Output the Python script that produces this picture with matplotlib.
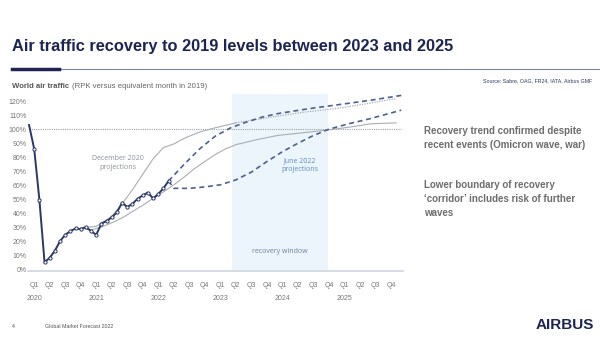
import matplotlib.pyplot as plt
from matplotlib.lines import Line2D

plt.rcParams['font.family'] = ['Liberation Sans', 'DejaVu Sans']

# monthly RPK vs same month of 2019 (%), month 0 = Jan 2020
traffic_months = list(range(0, 28))
traffic = [103, 86, 50, 5.5, 8.7, 13.7, 20.5, 25, 27.6, 29.5, 29, 30.5,
           27.6, 25, 33, 34.7, 37.4, 41, 47.8, 44.7, 47, 50.6, 53, 55,
           50.8, 54, 58, 63.3]

# June 2022 projections (dashed)
jun_hi_months = [27, 30, 33, 36, 39, 42, 45, 48, 54, 60, 66, 72]
jun_hi = [63.3, 75, 86, 95, 101, 105, 108.5, 111, 114.5, 117.5, 120.5, 124]
jun_lo_months = [27, 28, 31, 34, 37, 40, 43, 46, 49, 52, 55, 58, 62, 66, 72]
jun_lo = [63.3, 58, 58, 59, 60.5, 64, 69.5, 77, 84, 90, 95.5, 100, 104, 107.5, 113.5]

# December 2020 projections (thin grey)
dec_hi_months = [10, 13, 16, 18, 20, 22, 24, 26, 28, 30, 33, 36, 40]
dec_hi = [29.8, 31, 38, 47, 57, 68, 79, 87, 89.5, 93.5, 98, 101, 104.5]
dec_hi_ext_months = [40, 47, 53, 60, 66, 71]
dec_hi_ext = [104.5, 108.7, 112, 115, 118.5, 121.8]
dec_lo_months = [10, 12, 14, 16, 18, 20, 22, 24, 26, 28, 30, 32, 34, 36, 38, 40,
                 44, 48, 53, 58, 63, 66, 71]
dec_lo = [29.8, 28.5, 30.5, 33.5, 37, 41.5, 46, 51, 55.5, 60.5, 66, 72, 77, 82,
          86, 89, 92.5, 95.5, 97.5, 99.5, 102, 103.8, 104.5]

window = (39.2, 57.9)
yticks = list(range(0, 121, 10))
quarters = ['Q1', 'Q2', 'Q3', 'Q4'] * 6
years = ['2020', '2021', '2022', '2023', '2024', '2025']

W, H = 600, 341
fig = plt.figure(figsize=(6, 3.41), dpi=100)
fig.patch.set_facecolor('white')

def fx(px):
    return px / W

def fy(py):
    return 1 - py / H

ax = fig.add_axes([fx(28), fy(270.7), 374.8 / W, 176.7 / H])
ax.set_xlim(-0.2, 72.3)
ax.set_ylim(-0.5, 125)

ax.axvspan(window[0], window[1], ymin=0.004, ymax=1, color='#edf5fc', lw=0, zorder=0)
ax.plot([0, 72], [100, 100], color='#9aa0a8', lw=0.8, ls=(0, (1, 1)), zorder=1)

grey = '#a9adb4'
ax.plot(dec_hi_months, dec_hi, color=grey, lw=0.8, zorder=2)
ax.plot(dec_hi_ext_months, dec_hi_ext, color=grey, lw=0.9, ls=(0, (1, 1)), zorder=2)
ax.plot(dec_lo_months, dec_lo, color=grey, lw=0.8, zorder=2)

dash = '#4b6290'
ax.plot(jun_hi_months, jun_hi, color=dash, lw=1.2, ls=(0, (3, 2.2)), zorder=3)
ax.plot(jun_lo_months, jun_lo, color=dash, lw=1.2, ls=(0, (3, 2.2)), zorder=3)

ax.plot(traffic_months, traffic, color='#2b3866', lw=1.4, zorder=4)
ax.plot(traffic_months[1:], traffic[1:], ls='none', marker='o', ms=2.3,
        mfc='white', mec='#2b3866', mew=0.7, zorder=5)

ax.text(17.2, 76, 'December 2020\nprojections', ha='center', va='center',
        fontsize=5, color='#8a8f99', linespacing=1.3, family='Open Sans')
ax.text(52.4, 74.5, 'June 2022\nprojections', ha='center', va='center',
        fontsize=5, color='#5a8bcb', linespacing=1.3, family='Open Sans')
ax.text(48.5, 12.8, 'recovery window', ha='center', va='center',
        fontsize=5, color='#6a7ea3', family='Open Sans')

for s in ['top', 'right', 'left']:
    ax.spines[s].set_visible(False)
ax.spines['bottom'].set_color('#cdd6e2')
ax.spines['bottom'].set_linewidth(1.2)

ax.set_yticks(yticks)
ax.set_yticklabels([f'{v}%' for v in yticks])
ax.tick_params(axis='y', length=0, pad=1, labelsize=5, labelcolor='#777777')
ax.set_xticks([1 + 3 * i for i in range(24)])
ax.set_xticklabels(quarters)
ax.tick_params(axis='x', length=0, pad=8, labelsize=5, labelcolor='#777777')
for i, yr in enumerate(years):
    ax.text(1 + 12 * i, -0.155, yr, transform=ax.get_xaxis_transform(),
            ha='center', va='center', fontsize=5, color='#777777')

# header
fig.text(fx(12), fy(47), 'Air traffic recovery to 2019 levels between 2023 and 2025',
         fontsize=11.8, fontweight='bold', color='#1c2452', va='center')
fig.add_artist(Line2D([fx(12), fx(600)], [fy(69), fy(69)], color='#7d8799', lw=0.8))
fig.add_artist(Line2D([fx(12), fx(59)], [fy(69), fy(69)], color='#1d2453', lw=2.5))
fig.text(fx(592), fy(81), 'Source: Sabre, OAG, FR24, IATA, Airbus GMF',
         fontsize=3.8, color='#2b3866', ha='right', va='center')
fig.text(fx(12), fy(87), 'World air traffic', fontsize=5.6, fontweight='bold',
         color='#555555', va='center')
fig.text(fx(71.5), fy(87), '(RPK versus equivalent month in 2019)', fontsize=5.6,
         color='#666666', va='center')

# side notes
fig.text(fx(424), fy(138), 'Recovery trend confirmed despite\nrecent events (Omicron wave, war)',
         fontsize=7.0, fontweight='bold', color='#6d6d6d', va='center', linespacing=1.5)
fig.text(fx(424), fy(199), 'Lower boundary of recovery\n\u2018corridor\u2019 includes risk of further\nwaves',
         fontsize=7.0, fontweight='bold', color='#6d6d6d', va='center', linespacing=1.5)

# footer
fig.text(fx(12), fy(326), '4', fontsize=3.8, color='#555555', va='center')
fig.text(fx(45), fy(326), 'Global Market Forecast 2022', fontsize=3.8, color='#555555', va='center')
fig.text(fx(594), fy(325), 'AIRBUS', fontsize=11, fontweight='bold', color='#1c2452',
         ha='right', va='center')

fig.savefig('out.png', dpi=100)
